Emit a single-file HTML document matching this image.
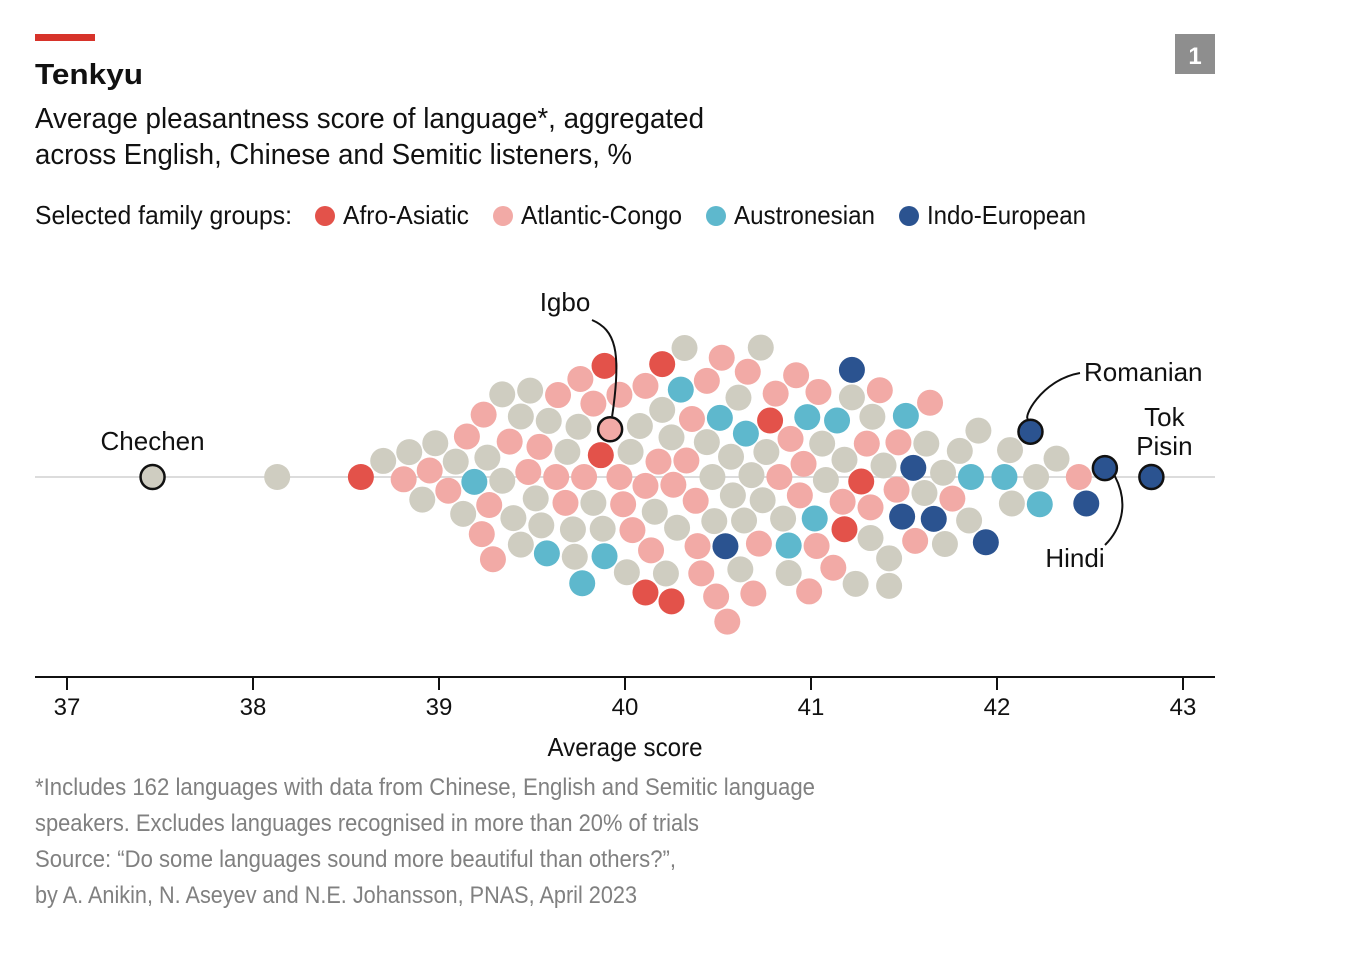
<!DOCTYPE html>
<html><head><meta charset="utf-8"><style>
html,body{margin:0;padding:0;background:#fff;}
svg{display:block;font-family:"Liberation Sans",sans-serif;}
</style></head><body>
<svg id="chart" width="1350" height="962" viewBox="0 0 1350 962">
<rect x="35" y="34" width="60" height="7" fill="#d7332a"/>
<text x="35" y="84" font-size="29" font-weight="bold" fill="#111" textLength="108" lengthAdjust="spacingAndGlyphs">Tenkyu</text>
<text x="35" y="128" font-size="29" fill="#111" textLength="669" lengthAdjust="spacingAndGlyphs">Average pleasantness score of language*, aggregated</text>
<text x="35" y="164" font-size="29" fill="#111" textLength="597" lengthAdjust="spacingAndGlyphs">across English, Chinese and Semitic listeners, %</text>
<rect x="1175" y="34" width="40" height="40" fill="#8e8e8e"/>
<text x="1195" y="64" font-size="24" font-weight="bold" fill="#fff" text-anchor="middle">1</text>
<g>
<text x="35" y="224" font-size="26" fill="#111" textLength="257" lengthAdjust="spacingAndGlyphs">Selected family groups:</text>
<circle cx="325" cy="216" r="10" fill="#e3524a"/>
<text x="343" y="224" font-size="26" fill="#111" textLength="126" lengthAdjust="spacingAndGlyphs">Afro-Asiatic</text>
<circle cx="503" cy="216" r="10" fill="#f2aaa6"/>
<text x="521" y="224" font-size="26" fill="#111" textLength="161" lengthAdjust="spacingAndGlyphs">Atlantic-Congo</text>
<circle cx="716" cy="216" r="10" fill="#5eb8cd"/>
<text x="734" y="224" font-size="26" fill="#111" textLength="141" lengthAdjust="spacingAndGlyphs">Austronesian</text>
<circle cx="909" cy="216" r="10" fill="#2b5390"/>
<text x="927" y="224" font-size="26" fill="#111" textLength="159" lengthAdjust="spacingAndGlyphs">Indo-European</text>
</g>
<line x1="35" y1="477" x2="1215" y2="477" stroke="#dcdcdc" stroke-width="2"/>
<g id="dots"></g>
<g id="annot"></g>
<line x1="35" y1="677" x2="1215" y2="677" stroke="#111" stroke-width="2"/>
<g id="xaxis"></g>
<text x="625" y="756" font-size="26" fill="#111" text-anchor="middle" textLength="155" lengthAdjust="spacingAndGlyphs">Average score</text>
<g fill="#808080" font-size="24">
<text x="35" y="795" textLength="780" lengthAdjust="spacingAndGlyphs">*Includes 162 languages with data from Chinese, English and Semitic language</text>
<text x="35" y="831" textLength="664" lengthAdjust="spacingAndGlyphs">speakers. Excludes languages recognised in more than 20% of trials</text>
<text x="35" y="867" textLength="641" lengthAdjust="spacingAndGlyphs">Source: “Do some languages sound more beautiful than others?”,</text>
<text x="35" y="903" textLength="602" lengthAdjust="spacingAndGlyphs">by A. Anikin, N. Aseyev and N.E. Johansson, PNAS, April 2023</text>
</g>
</svg>
<script>
const scores = [
37.46,38.13,38.58,38.70,38.81,38.84,38.91,38.95,38.98,39.05,
39.09,39.13,39.15,39.19,39.23,39.24,39.26,39.27,39.29,39.34,
39.34,39.38,39.40,39.44,39.44,39.48,39.49,39.52,39.54,39.55,
39.58,39.59,39.63,39.64,39.68,39.69,39.72,39.73,39.75,39.76,
39.77,39.78,39.83,39.83,39.87,39.88,39.89,39.89,39.92,39.97,
39.97,39.99,40.01,40.03,40.04,40.08,40.11,40.11,40.11,40.14,
40.16,40.18,40.20,40.20,40.22,40.25,40.25,40.26,40.28,40.30,
40.32,40.33,40.36,40.38,40.39,40.41,40.44,40.44,40.47,40.48,
40.49,40.51,40.52,40.54,40.55,40.57,40.58,40.61,40.62,40.64,
40.65,40.66,40.68,40.69,40.72,40.73,40.74,40.76,40.78,40.81,
40.83,40.85,40.88,40.88,40.89,40.92,40.94,40.96,40.98,40.99,
41.02,41.03,41.04,41.06,41.08,41.12,41.14,41.17,41.18,41.18,
41.22,41.22,41.24,41.27,41.30,41.32,41.32,41.33,41.37,41.39,
41.42,41.42,41.46,41.47,41.49,41.51,41.55,41.56,41.61,41.62,
41.64,41.66,41.71,41.72,41.76,41.80,41.85,41.86,41.90,41.94,
42.04,42.07,42.08,42.18,42.21,42.23,42.32,42.44,42.48,42.58,
42.83];
const families = [
"O","O","R","O","P","O","O","P","O","P",
"O","O","P","T","P","P","O","P","P","O",
"O","P","O","O","O","P","O","O","P","O",
"T","O","P","P","P","O","O","O","O","P",
"T","P","O","P","R","O","T","R","P","P",
"P","P","O","O","P","O","P","P","R","P",
"O","P","O","R","O","O","R","P","O","T",
"O","P","P","P","P","P","O","P","O","O",
"P","T","P","N","P","O","O","O","O","O",
"T","P","O","P","P","O","O","O","R","P",
"P","O","T","O","P","P","P","P","T","P",
"T","P","P","O","O","P","T","P","O","R",
"O","N","O","R","P","P","O","O","P","O",
"O","O","P","P","N","T","N","P","O","O",
"P","N","O","O","P","O","O","T","O","N",
"T","O","O","N","O","T","O","P","N","N",
"N"];
const ticks = [37,38,39,40,41,42,43];
const labelled = {"Chechen":0,"Igbo":48,"Romanian":153,"Hindi":159,"Tok Pisin":160};

const colors = {R:"#e3524a",P:"#f2aaa6",T:"#5eb8cd",N:"#2b5390",O:"#cfcdc1"};
const famName = {R:"afro-asiatic",P:"atlantic-congo",T:"austronesian",N:"indo-european",O:"other"};
const x = v => 67 + (v - 37) * 186;
const Y0 = 477, R = 13, D = 27.5;
const NS = "http://www.w3.org/2000/svg";

const placed = [];
const order = scores.map((s,i)=>i).sort((a,b)=>scores[a]-scores[b]);
const pos = [];
order.forEach((i,k)=>{
  const cx = x(scores[i]);
  const near = placed.filter(p=>Math.abs(p.x-cx)<D);
  const cands = [0];
  near.forEach(p=>{const dy=Math.sqrt(D*D-(p.x-cx)*(p.x-cx)); cands.push(p.y+dy,p.y-dy);});
  const sgn = (k%2===0)?-1:1;
  cands.sort((a,b)=>(Math.abs(a)-Math.abs(b)) || (a*sgn - b*sgn));
  let y = 0;
  for (const c of cands){ if(near.every(p=>(p.x-cx)**2+(p.y-c)**2>=D*D-0.01)){y=c;break;} }
  placed.push({x:cx,y:y}); pos[i]={x:cx,y:Y0+y};
});

const dg = document.getElementById('dots');
const lab = Object.values(labelled);
scores.forEach((s,i)=>{
  const c = document.createElementNS(NS,'circle');
  c.setAttribute('cx',pos[i].x); c.setAttribute('cy',pos[i].y); c.setAttribute('r',lab.includes(i)?R-1:R);
  c.setAttribute('fill',colors[families[i]] || "#cfcdc1");
  if(lab.includes(i)){c.setAttribute('stroke','#111');c.setAttribute('stroke-width','2.5');}
  
  
  dg.appendChild(c);
});

const ag = document.getElementById('annot');
function txt(t,xx,yy,anchor,name){
  const e=document.createElementNS(NS,'text');
  e.setAttribute('x',xx);e.setAttribute('y',yy);e.setAttribute('font-size','26');e.setAttribute('fill','#111');
  e.setAttribute('text-anchor',anchor);e.textContent=t;
  
  
  ag.appendChild(e);
}
function path(d,name){
  const e=document.createElementNS(NS,'path');
  e.setAttribute('d',d);e.setAttribute('fill','none');e.setAttribute('stroke','#111');e.setAttribute('stroke-width','2');
  
  
  ag.appendChild(e);
}
let p=pos[labelled["Chechen"]];
txt("Chechen",p.x,p.y-27,"middle","label-chechen");
p=pos[labelled["Igbo"]];
txt("Igbo",565,311,"middle","label-igbo");
path(`M592,320 C615,330 622,350 ${p.x+2},${p.y-R}`,"leader-igbo");
p=pos[labelled["Romanian"]];
txt("Romanian",1084,381,"start","label-romanian");
path(`M1080,373 C1040,380 1022,420 ${p.x-2},${p.y-R}`,"leader-romanian");
p=pos[labelled["Hindi"]];
txt("Hindi",1075,567,"middle","label-hindi");
path(`M${p.x+10},${p.y+8} C1130,505 1120,530 1105,545`,"leader-hindi");
p=pos[labelled["Tok Pisin"]];
txt("Tok",p.x+13,p.y-51,"middle","label-tok-pisin-1");
txt("Pisin",p.x+13,p.y-22,"middle","label-tok-pisin-2");

const xg=document.getElementById('xaxis');
ticks.forEach(t=>{
  const l=document.createElementNS(NS,'line');
  l.setAttribute('x1',x(t));l.setAttribute('x2',x(t));l.setAttribute('y1',677);l.setAttribute('y2',690);
  l.setAttribute('stroke','#111');l.setAttribute('stroke-width','2');
  
  
  xg.appendChild(l);
  const e=document.createElementNS(NS,'text');
  e.setAttribute('x',x(t));e.setAttribute('y',715);e.setAttribute('font-size','24');e.setAttribute('fill','#111');
  e.setAttribute('text-anchor','middle');e.textContent=t;
  
  
  xg.appendChild(e);
});
</script>
</body></html>
